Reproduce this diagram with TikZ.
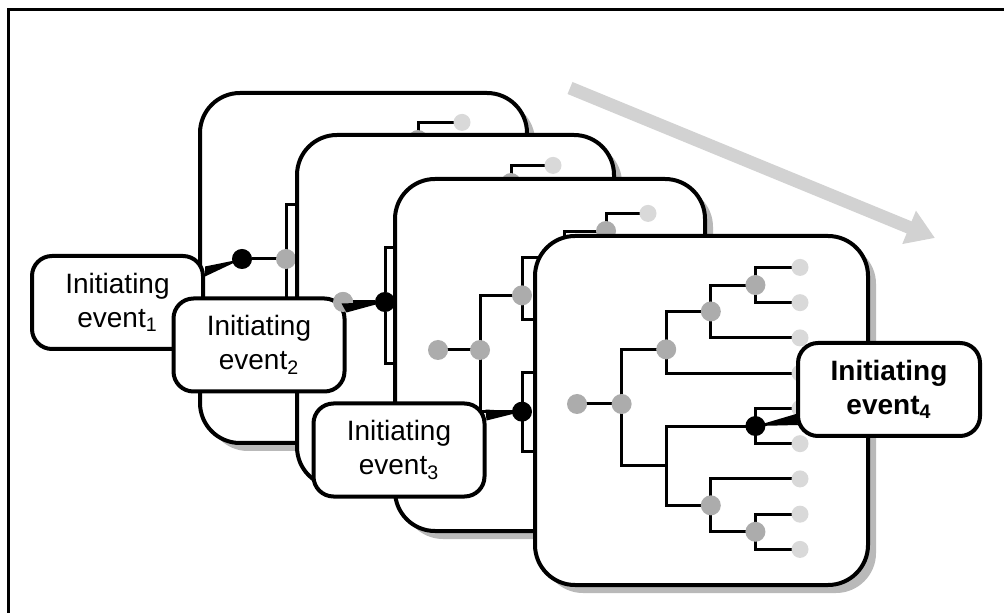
\documentclass[tikz,border=0pt]{standalone}
\usepackage{fontspec}
\setmainfont{Liberation Sans}
\usetikzlibrary{calc,arrows.meta}
\tikzset{
	branch/.style={line width=1.5pt},
	knot/.style={fill=gray!65},
	leaf/.style={fill=gray!30},
	card/.style={line width=2pt,fill=white,rounded corners=20pt},
	cardshadow/.style={fill=gray!55,rounded corners=20pt},
	event/.style={draw,line width=2pt,fill=white,rounded corners=10pt,
		minimum width=85.5pt,minimum height=46.5pt,align=center,inner sep=0pt,
		font=\fontsize{14}{17}\selectfont},
	trend/.style={line width=6.5pt,gray!35,-{Triangle[length=14pt,width=17pt]}}
}
% card with its shadow: (left,top)(right,bottom)
\def\card(#1,#2)(#3,#4)
{ \fill[cardshadow] (#1+8,#2+8) rectangle (#3+8,#4+8);
  \draw[card] (#1,#2) rectangle (#3,#4); }
% event tree: [prefix](root x,root y)(level step:node of the initiating event)
\def\eventtree[#1](#2,#3)(#4:#5)
{ \begin{scope}[shift={(#2,#3)},x=#4*0.5pt,y=-17.625pt]
	\coordinate (#1r)   at (0,0);
	\coordinate (#1n2)  at (1,0);
	\coordinate (#1n3a) at (2,-1.55);
	\coordinate (#1n3b) at (2,1.75);
	\coordinate (#1n4a) at (3,-2.625);
	\coordinate (#1n4b) at (3,2.875);
	\coordinate (#1n4c) at (4,0.625);
	\coordinate (#1n5a) at (4,-3.375);
	\coordinate (#1n5b) at (4,3.625);
	\foreach \i in {0,...,8} \coordinate (#1L\i) at (5,\i-3.875);
	\foreach \p/\c in {r/n2,n2/n3a,n2/n3b,n3a/n4a,n3a/L3,n4a/n5a,n4a/L2,n5a/L0,n5a/L1,
			n3b/n4c,n3b/n4b,n4c/L4,n4c/L5,n4b/L6,n4b/n5b,n5b/L7,n5b/L8}
		\draw[branch] (#1\p) |- (#1\c);
	\foreach \n in {r,n2,n3a,n4a,n5a,n4b,n5b} \fill[knot] (#1\n) circle[radius=5pt];
	\foreach \i in {0,...,8} \fill[leaf] (#1L\i) circle[radius=4.25pt];
	\fill (#1#5) circle[radius=5pt];
  \end{scope} }

\begin{document}
\begin{tikzpicture}[x=0.5pt,y=-0.5pt]
	\useasboundingbox (0,0) rectangle (1004,613);
	%FRAME
	\draw[line width=1.5pt] (8,613) -- (8,10) -- (1004,10);

	%ARROW
	\coordinate (trend start) at (570,88);
	\coordinate (trend end) at (935,238);
	\draw[trend] (trend start) -- (trend end);

	%CARDS AND TREES
	\card(200,93)(527,443)
	\eventtree[t1](242,259)(44:r)
	\card(297,135)(614,487)
	\eventtree[t2](343,302)(42:n2)
	\card(395,179)(705,531)
	\eventtree[t3](438,350)(42:n3b)
	\card(535,236)(868,585)
	\eventtree[t4](577,404)(44.6:n4c)

	%EVENTS
	\node[event] (ev1) at (117.5,302.5) {Initiating\\event\textsubscript{1}};
	\node[event] (ev2) at (259,345)     {Initiating\\event\textsubscript{2}};
	\node[event] (ev3) at (399,450)     {Initiating\\event\textsubscript{3}};
	\node[event,minimum width=91pt,font=\fontsize{14}{17}\selectfont\bfseries]
		(ev4) at (889,389.5) {Initiating\\event\textsubscript{4}};
	\fill[knot] (t2r) circle[radius=5pt];	%root of the second tree lies on the box

	%POINTERS
	\fill ($(ev1.east)+(0,-36)$) -- (t1r) -- ($(ev1.east)+(0,-26)$) -- cycle;
	\fill ($(ev2.north east)+(-5,7)$) -- (t2n2) -- ($(ev2.north east)+(0,16)$) -- cycle;
	\fill ($(ev3.north east)+(-1,8)$) -- (t3n3b) -- ($(ev3.north east)+(0,19)$) -- cycle;
	\fill ($(ev4.south west)+(0,-24)$) -- (t4n4c) -- ($(ev4.south west)+(2,-13)$) -- cycle;
\end{tikzpicture}
\end{document}
